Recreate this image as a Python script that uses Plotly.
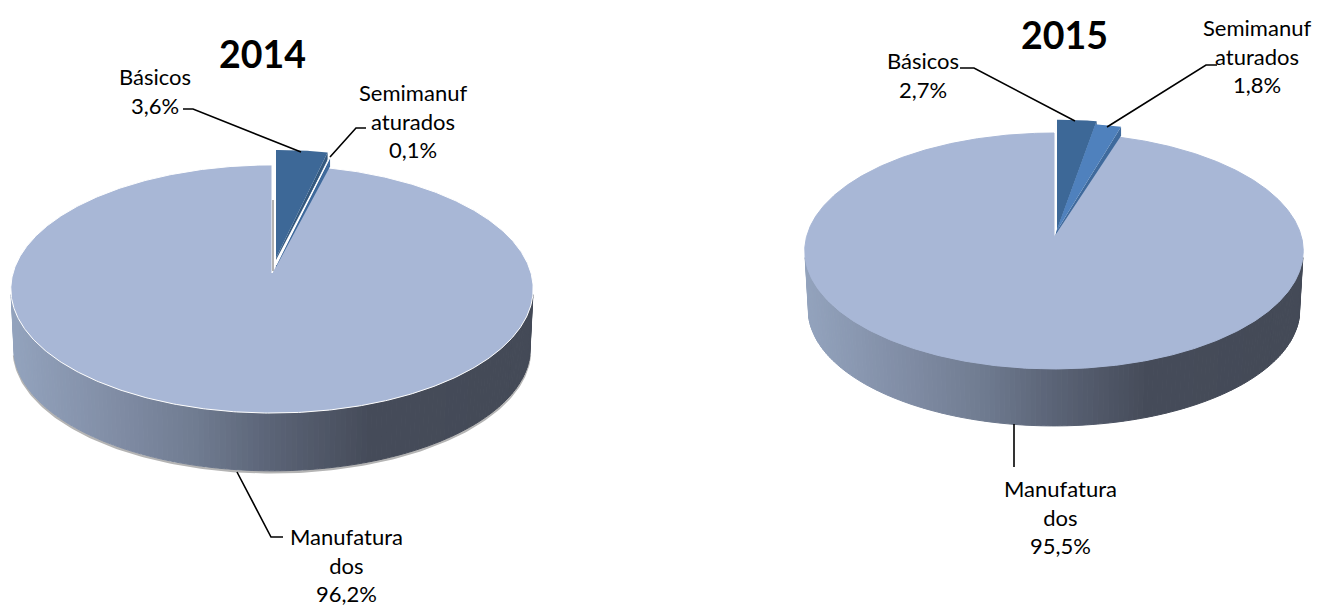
import numpy as np
import plotly.graph_objects as go

# ---- data ----
categories = ["Básicos", "Semimanuf<br>aturados", "Manufatura<br>dos"]
values_2014 = [3.6, 0.1, 96.2]
values_2015 = [2.7, 1.8, 95.5]
titles = ["2014", "2015"]

COL_BAS = "#3D6897"
COL_SEMI = "#4F81BD"
COL_MAN = "#A8B7D6"
SIDE_STOPS = [(0.0, (147, 163, 189)), (0.22, (127, 139, 163)), (0.36, (112, 124, 145)),
              (0.50, (92, 101, 120)), (0.70, (70, 76, 90)), (1.0, (68, 74, 87))]

FONT = "Lato, Carlito, 'Open Sans', sans-serif"


def side_colour(t):
    xs = [s[0] for s in SIDE_STOPS]
    rgb = [int(np.interp(t, xs, [s[1][i] for s in SIDE_STOPS])) for i in range(3)]
    return "rgb(%d,%d,%d)" % tuple(rgb)


def proj(theta, g, dx=0.0, dy=0.0, scale=1.0):
    """Point of the tilted disc at clockwise angle theta (radians from 12 o'clock)."""
    u, v = np.sin(theta), np.cos(theta)
    w = 1 + g["k"] * v
    return g["cx"] + dx + scale * g["rx"] * u / w, g["ay"] + dy - scale * g["ry"] * v / w


def poly(fig, xs, ys, fill, line=None, width=0):
    fig.add_trace(go.Scatter(x=list(xs), y=list(ys), mode="lines", fill="toself", fillcolor=fill,
                             line=dict(color=line or fill, width=width), hoverinfo="skip", showlegend=False))


def sector(g, a0, a1, dx=0.0, dy=0.0, scale=1.0):
    th = np.radians(np.linspace(a0, a1, max(3, int(abs(a1 - a0)) * 2)))
    x, y = proj(th, g, dx, dy, scale)
    return np.r_[g["cx"] + dx, x, g["cx"] + dx], np.r_[g["ay"] + dy, y, g["ay"] + dy]


def draw_pie(fig, values, g):
    a_bas = values[0] * 3.6
    a_semi = a_bas + values[1] * 3.6
    b = g["bottom"]
    if g["halo"]:
        th = np.radians(np.linspace(100, 260, 200))
        x, y = proj(th, b)
        fig.add_trace(go.Scatter(x=x, y=y + 1.5, mode="lines", line=dict(color="#B4B4B4", width=2.5),
                                 hoverinfo="skip", showlegend=False))
    # gradient side wall
    edges = np.radians(np.linspace(100, 260, 150))
    xl = g["cx"] - g["rx"]
    for t0, t1 in zip(edges[:-1], edges[1:]):
        xa, ya = proj(np.array([t0, t1]), g)
        xb, yb = proj(np.array([t1, t0]), b)
        col = side_colour((np.mean(xa) - xl) / (2 * g["rx"] * 0.98))
        poly(fig, np.r_[xa, xb, xa[0]], np.r_[ya, yb, ya[0]], col, width=1)
    # main top face
    mx, my = sector(g, a_semi, 360)
    poly(fig, mx, my, COL_MAN, line=g["edge"], width=1)
    if g["cut"]:
        fig.add_trace(go.Scatter(x=[g["cx"] + 1, g["cx"] + 1], y=[g["ay"] - g["cut"], g["ay"] - 2], mode="lines",
                                 line=dict(color="#B2B2B2", width=2), hoverinfo="skip", showlegend=False))
    # exploded small slices
    eb, es = g["exp_bas"], g["exp_semi"]
    for e, a0, a1, col, side in ((eb, 0, a_bas, COL_BAS, "#34597F"), (es, a_bas, a_semi, COL_SEMI, "#3F6A9C")):
        ex, ey = proj(np.radians(a1), g, *e)
        ax, ay = g["cx"] + e[0], g["ay"] + e[1]
        poly(fig, [ax, ex, ex, ax], [ay, ey, ey + g["lip"], ay + 2], side)
    for e, a0, a1, col, lc, w in ((eb, 0, a_bas, COL_BAS, COL_BAS, 0), (es, a_bas, a_semi, COL_SEMI, g["semi_edge"], g["semi_w"])):
        sx, sy = sector(g, a0, a1, *e)
        poly(fig, sx, sy, col, line=lc, width=w)


GEO_2014 = dict(cx=272, ay=273, rx=259, ry=122, k=0.129, edge="#FFFFFF", halo=True, cut=73, lip=9,
                semi_edge="#FFFFFF", semi_w=1, exp_bas=(4, -15, 1.0), exp_semi=(4, -8, 1.02))
GEO_2014["bottom"] = dict(cx=272, ay=332.5, rx=256, ry=120.5, k=0.129)
GEO_2015 = dict(cx=1054, ay=237, rx=247.5, ry=116.3, k=0.1186, edge=COL_MAN, halo=False, cut=0, lip=9,
                semi_edge=COL_SEMI, semi_w=0, exp_bas=(3, -7, 1.06), exp_semi=(2, -5, 1.05))
GEO_2015["bottom"] = dict(cx=1054, ay=296, rx=244, ry=114.5, k=0.1186)

fig = go.Figure()
draw_pie(fig, values_2014, GEO_2014)
draw_pie(fig, values_2015, GEO_2015)

LEADERS = [
    ([183, 193, 301], [109, 109, 152]),
    ([366, 356, 330], [128, 128, 157]),
    ([283, 271, 237], [537, 537, 472]),
    ([960, 974, 1075], [68, 68, 121]),
    ([1217, 1206, 1107], [65, 65, 127]),
    ([1014, 1014], [424, 467]),
]
for lx, ly in LEADERS:
    fig.add_trace(go.Scatter(x=lx, y=ly, mode="lines", line=dict(color="#000000", width=1.6),
                             hoverinfo="skip", showlegend=False))


def pct(v):
    return ("%.1f%%" % v).replace(".", ",")


def label(x, y, text):
    fig.add_annotation(x=x, y=y, text=text, showarrow=False, xanchor="center", yanchor="middle",
                       font=dict(family=FONT, size=22, color="#000000"), align="center")


LABEL_POS = [(155, 91), (413, 121), (346, 565), (923, 75), (1257, 56), (1060, 517)]
all_vals = values_2014 + values_2015
all_cats = categories + categories
for (x, y), c, v in zip(LABEL_POS, all_cats, all_vals):
    label(x, y, c + "<br>" + pct(v))

for (x, y), t in zip([(262, 53), (1064, 34)], titles):
    fig.add_annotation(x=x, y=y, text="<b>%s</b>" % t, showarrow=False,
                       font=dict(family=FONT, size=37.5, color="#000000"))

fig.update_layout(width=1323, height=606, margin=dict(l=0, r=0, t=0, b=0), paper_bgcolor="#FFFFFF",
                  plot_bgcolor="#FFFFFF", showlegend=False,
                  xaxis=dict(range=[0, 1323], visible=False, fixedrange=True),
                  yaxis=dict(range=[606, 0], visible=False, fixedrange=True))
fig.write_html("out.html", config=dict(displayModeBar=False),
               post_script="document.body.style.margin='0';document.documentElement.style.overflow='hidden';")
